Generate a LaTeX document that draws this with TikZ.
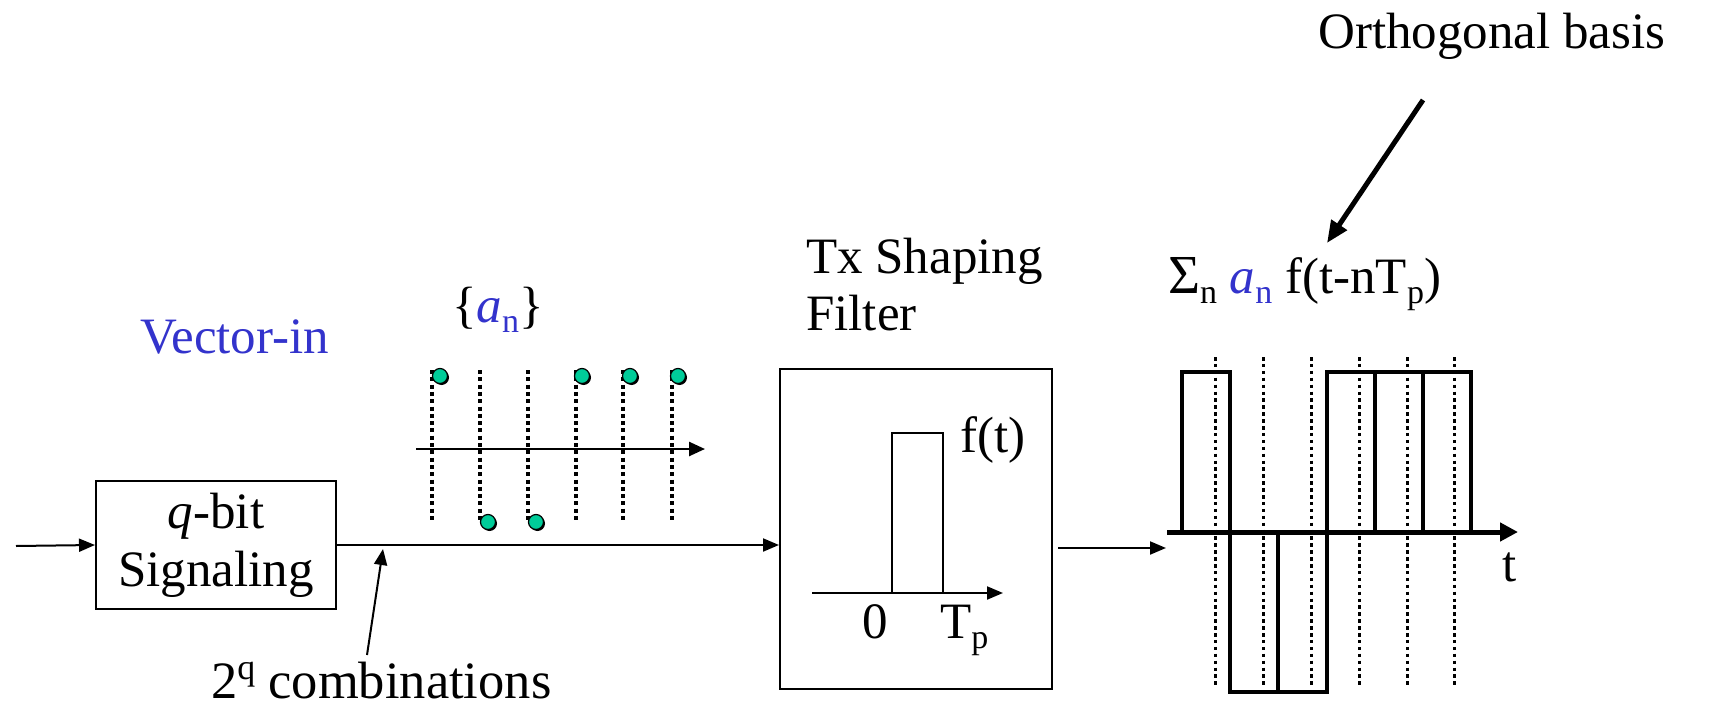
\documentclass[tikz,border=0pt]{standalone}
\usepackage{fontspec}
\setmainfont{Liberation Serif}
\usetikzlibrary{arrows.meta}
\definecolor{vblue}{RGB}{51,51,204}
\definecolor{dotgreen}{RGB}{0,204,153}
\newcommand\lsub[1]{\raisebox{-0.2em}{\fontsize{34}{34}\selectfont #1}}
\newcommand\usup[1]{\raisebox{0.36em}{\fontsize{36}{36}\selectfont #1}}
\begin{document}
\begin{tikzpicture}[x=1pt,y=-1pt,font=\fontsize{51}{58}\selectfont,
  box/.style={draw,line width=2pt,inner sep=0pt},
  txt/.style={inner sep=0pt,anchor=base west},
  arr/.style={-{Triangle[length=16pt,width=13pt]},line width=2pt},
  dotline/.style={line width=4.5pt,dash pattern=on 4pt off 3.3pt},
  gridline/.style={line width=3pt,dash pattern=on 3.5pt off 3.4pt},
  pulse/.style={line width=3.5pt},
  sym/.style={circle,draw,line width=1.2pt,fill=dotgreen,minimum size=15pt,inner sep=0pt}]
\useasboundingbox (0,0) rectangle (1710,706);

% blocks
\node[box,minimum width=240pt,minimum height=128pt,align=center] (sig) at (216,545) {\textit{q}-bit\\Signaling};
\node[box,minimum width=272pt,minimum height=320pt] (filt) at (916,529) {};
\coordinate (in) at (16,546);
\draw[arr] (in) -- (sig.west);
\draw[arr] (sig.east) -- (sig.east -| filt.west);
\coordinate (o1) at (1058,548);
\coordinate (o2) at (1166,548);
\draw[arr] (o1) -- (o2);

% labels
\node[txt,text=vblue] (vin) at (140,353) {Vector-in};
\node[txt] (an) at (452,322) {\{\textcolor{vblue}{\textit{a}\lsub{n}}\}};
\node[txt] (tx1) at (806,273) {Tx Shaping};
\node[txt] (tx2) at (806,330) {Filter};
\node[txt] (sum) at (1168,293) {{\fontsize{55}{58}\selectfont Σ}\lsub{n} \textcolor{vblue}{\textit{a}\lsub{n}} f(t-nT\lsub{p})};
\node[txt] (orth) at (1318,49) {Orthogonal basis};
\node[txt,font=\fontsize{52.5}{58}\selectfont] (comb) at (211,698) {2\usup{q} combinations};

% annotation arrows
\coordinate (cs) at (367,655);
\coordinate (ce) at (383,549);
\draw[arr] (cs) -- (ce);
\coordinate (os) at (1423,100);
\coordinate (oe) at (1327,243);
\draw[-{Triangle[length=22pt,width=18pt]},line width=5pt] (os) -- (oe);

% symbol sequence
\foreach \x in {432,480,528,576,623,672} \draw[dotline] (\x,370) -- (\x,523);
\coordinate (sa) at (416,449);
\coordinate (sb) at (705,449);
\draw[-{Triangle[length=16pt,width=14pt]},line width=2.5pt] (sa) -- (sb);
\foreach \x/\y [count=\i] in {440/376,488/522,536/522,582/376,630/376,678/376}{
  \fill (\x+1.5,\y+1.5) circle (7.5pt);
  \node[sym] (d\i) at (\x,\y) {};
}

% filter impulse response
\coordinate (fa) at (812,593);
\coordinate (fb) at (1003,593);
\draw[arr] (fa) -- (fb);
\draw[line width=2pt] (892,593) -- (892,433) -- (943,433) -- (943,593);
\node[txt] (ft) at (960,452) {f(t)};
\node[txt,anchor=base] (zero) at (875,638) {0};
\node[txt] (tp) at (940,638) {T\lsub{p}};

% output waveform
\foreach \x in {1215,1263,1311,1359,1407,1454} \draw[gridline] (\x,357) -- (\x,687);
\foreach \a/\b/\s in {1182/1230/372,1230/1278/692,1278/1327/692,1327/1375/372,1375/1423/372,1423/1471/372}
  \draw[pulse] (\a,532) rectangle (\b,\s);
\coordinate (ta) at (1167,532);
\coordinate (tb) at (1518,532);
\draw[-{Triangle[length=18pt,width=18pt]},line width=5pt] (ta) -- (tb);
\node (tl) at (1510,567) {t};
\end{tikzpicture}
\end{document}
